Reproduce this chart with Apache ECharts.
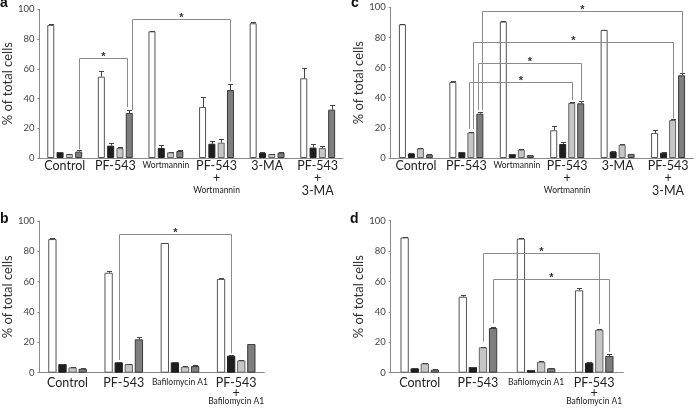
<!DOCTYPE html>
<html><head><meta charset="utf-8">
<script src="https://cdn.jsdelivr.net/npm/echarts@6/dist/echarts.min.js"></script>
<style>html,body{margin:0;padding:0;background:#fff}#c{width:700px;height:408px}</style>
</head><body><div id="c"></div>
<script>
// ---------- data ----------
const catsAC = ['Control', 'PF-543', 'Wortmannin', 'PF-543\n+\nWortmannin', '3-MA', 'PF-543\n+\n3-MA'];
const catsBD = ['Control', 'PF-543', 'Bafilomycin A1', 'PF-543\n+\nBafilomycin A1'];
const yTicks = [0, 20, 40, 60, 80, 100];

// panel a
const aWhite = [89.5, 54.7, 85.2, 34.3, 90.6, 53.6];
const aWhiteErr = [0.3, 3.8, 0.5, 6.5, 1.1, 7.2];
const aBlack = [4.0, 8.3, 6.7, 9.6, 3.4, 7.0];
const aBlackErr = [0.3, 1.6, 1.8, 1.8, 0.3, 2.2];
const aLight = [2.7, 6.7, 3.8, 10.3, 2.7, 6.7];
const aLightErr = [0.3, 0.5, 0.3, 2.2, 0.3, 1.6];
const aDark = [4.3, 30.3, 4.7, 45.7, 3.6, 32.5];
const aDarkErr = [1.0, 2.2, 0.4, 3.8, 0.5, 2.9];
// [cat1, bar1, side1, y1, cat2, bar2, side2, y2, yTop]
const aBrackets = [[0, 3, 0, 5.9, 1, 3, -1, 34.1, 67], [1, 3, 1, 32.3, 3, 3, 0, 51.3, 93.5]];

// panel c
const cWhite = [88.7, 50.4, 90.5, 18.4, 85.0, 16.6];
const cWhiteErr = [0.3, 0.5, 0.3, 2.9, 0.2, 2.0];
const cBlack = [3.0, 4.0, 2.6, 9.3, 4.2, 3.5];
const cBlackErr = [0.3, 0.3, 0.3, 1.1, 0.3, 0.2];
const cLight = [6.4, 17.0, 5.5, 36.5, 8.8, 25.2];
const cLightErr = [0.3, 0.3, 0.3, 0.7, 0.3, 0.5];
const cDark = [2.2, 29.4, 1.8, 36.3, 2.7, 54.9];
const cDarkErr = [0.3, 0.9, 0.3, 1.5, 0.2, 1.3];
const cBrackets = [[1, 3, 1, 31.9, 5, 3, 0, 56.2, 97.5], [1, 2, 1, 19.2, 5, 2, 0, 26.3, 76.8],
                   [1, 3, -1, 31.9, 3, 3, 0, 38.5, 62.8], [1, 2, -1, 19.2, 3, 2, 0, 38.5, 50.4]];

// panel b
const bWhite = [88.1, 65.9, 85.5, 61.8];
const bWhiteErr = [0.4, 0.9, 0.3, 0.3];
const bBlack = [5.7, 6.8, 6.8, 11.2];
const bBlackErr = [0.3, 0.2, 0.3, 0.2];
const bLight = [3.5, 5.7, 4.0, 8.1];
const bLightErr = [0.3, 0.3, 0.4, 0.2];
const bDark = [2.6, 22.0, 4.4, 18.9];
const bDarkErr = [0.3, 1.3, 0.7, 0.3];
const bBrackets = [[1, 1, 0, 8.4, 3, 1, 0, 12.8, 91.2]];

// panel d
const dWhite = [89.0, 50.0, 88.2, 54.2];
const dWhiteErr = [0.4, 1.3, 0.2, 1.5];
const dBlack = [2.9, 3.7, 1.8, 6.6];
const dBlackErr = [0.3, 0.3, 0.2, 0.2];
const dLight = [6.1, 16.7, 7.2, 28.3];
const dLightErr = [0.4, 0.5, 0.3, 0.2];
const dDark = [2.0, 29.4, 2.9, 11.0];
const dDarkErr = [0.2, 0.8, 0.5, 1.1];
const dBrackets = [[1, 2, 0, 20.4, 3, 2, 0, 32, 79], [1, 3, 0, 32.5, 3, 3, 0, 13.8, 61.4]];

// ---------- styles ----------
const FONT = 'Lato, "Open Sans", sans-serif';
const fills = ['#ffffff', '#1e1e1e', '#c6c6c6', '#7e7e7e'];
const borders = ['#555555', '#222222', '#666666', '#3a3a3a'];
const smallNames = ['Wortmannin', 'Bafilomycin A1'];

const grids = [
  {left: 36, top: 9.3, width: 307, height: 148.7},
  {left: 390.7, top: 7.3, width: 302.6, height: 150.7},
  {left: 36, top: 221, width: 228.3, height: 151.7},
  {left: 390.7, top: 220.7, width: 232.6, height: 152}
];

const panels = [
  {cats: catsAC, vals: [aWhite, aBlack, aLight, aDark], errs: [aWhiteErr, aBlackErr, aLightErr, aDarkErr], br: aBrackets, bw: 7, gap: 2.3, lh: [12.5, 12, 13], margin: 1.5},
  {cats: catsAC, vals: [cWhite, cBlack, cLight, cDark], errs: [cWhiteErr, cBlackErr, cLightErr, cDarkErr], br: cBrackets, bw: 7, gap: 2.0, lh: [12.5, 12, 13], margin: 1.5},
  {cats: catsBD, vals: [bWhite, bBlack, bLight, bDark], errs: [bWhiteErr, bBlackErr, bLightErr, bDarkErr], br: bBrackets, bw: 8.3, gap: 1.8, lh: [11, 9, 9], margin: 4.5},
  {cats: catsBD, vals: [dWhite, dBlack, dLight, dDark], errs: [dWhiteErr, dBlackErr, dLightErr, dDarkErr], br: dBrackets, bw: 8.3, gap: 1.8, lh: [11, 9, 9], margin: 4.5}
];

function barOffset(bw, gap, idx) {
  const total = 4 * bw + 3 * gap;
  return -total / 2 + bw / 2 + idx * (bw + gap);
}

function errRender(bw, gap, idx) {
  return function (params, api) {
    const c = api.value(0), v = api.value(1), e = api.value(2);
    const p0 = api.coord([c, v]);
    const p1 = api.coord([c, v + e]);
    const x = Math.round(p0[0] + barOffset(bw, gap, idx)) + 0.5;
    const yt = Math.round(p1[1]) + 0.5;
    return {type: 'group', children: [
      {type: 'line', shape: {x1: x, y1: p0[1], x2: x, y2: yt}, style: {stroke: '#444', lineWidth: 1}},
      {type: 'line', shape: {x1: x - 2.5, y1: yt, x2: x + 2.5, y2: yt}, style: {stroke: '#444', lineWidth: 1}}
    ]};
  };
}

function brRender(bw, gap) {
  return function (params, api) {
    const pos = (cat, bar, side, y) => {
      const p = api.coord([cat, y]);
      return [Math.round(p[0] + barOffset(bw, gap, bar) + side * 2.3) + 0.5, p[1]];
    };
    const a = pos(api.value(0), api.value(1), api.value(2), api.value(3));
    const b = pos(api.value(4), api.value(5), api.value(6), api.value(7));
    const yt = Math.round(api.coord([api.value(0), api.value(8)])[1]) + 0.5;
    return {type: 'group', children: [
      {type: 'polyline', shape: {points: [a, [a[0], yt], [b[0], yt], b]}, style: {stroke: '#8c8c8c', fill: null, lineWidth: 1}},
      {type: 'text', style: {text: '*', x: (a[0] + b[0]) / 2, y: yt - 2, textAlign: 'center', textVerticalAlign: 'middle', font: 'bold 11px "Liberation Sans", sans-serif', fill: '#333'}}
    ]};
  };
}

const xAxes = [], yAxes = [], series = [];
panels.forEach((p, gi) => {
  xAxes.push({
    gridIndex: gi, type: 'category', data: p.cats,
    axisLine: {lineStyle: {color: '#8c8c8c', width: 1}},
    axisTick: {show: false},
    axisLabel: {
      interval: 0, hideOverlap: false, margin: p.margin, color: '#222',
      formatter: function (v) {
        const lines = v.split('\n');
        return lines.map((l, i) => {
          const small = smallNames.indexOf(l) >= 0;
          const key = (small ? 's' : 'b') + Math.min(i, 2);
          return '{' + key + '|' + l + '}';
        }).join('\n');
      },
      rich: {
        b0: {fontSize: 12.5, fontFamily: FONT, lineHeight: p.lh[0], color: '#222'},
        b1: {fontSize: 12.5, fontFamily: FONT, lineHeight: p.lh[1], color: '#222'},
        b2: {fontSize: 12.5, fontFamily: FONT, lineHeight: p.lh[2], color: '#222'},
        s0: {fontSize: 8.5, fontFamily: FONT, lineHeight: p.lh[0], color: '#222'},
        s2: {fontSize: 8.5, fontFamily: FONT, lineHeight: p.lh[2], color: '#222'}
      }
    }
  });
  yAxes.push({
    gridIndex: gi, type: 'value', min: yTicks[0], max: yTicks[yTicks.length - 1], interval: yTicks[1] - yTicks[0],
    name: '% of total cells', nameLocation: 'middle', nameGap: 21, nameRotate: 90,
    nameTextStyle: {fontSize: 13, fontFamily: FONT, color: '#333'},
    axisLine: {show: true, lineStyle: {color: '#8c8c8c', width: 1}},
    axisTick: {show: true, length: 2, lineStyle: {color: '#8c8c8c'}},
    splitLine: {show: false},
    axisLabel: {fontSize: 9.5, fontFamily: FONT, color: '#444', margin: 5}
  });
  p.vals.forEach((vals, si) => {
    series.push({
      type: 'bar', xAxisIndex: gi, yAxisIndex: gi, data: vals,
      barWidth: p.bw, barGap: (p.gap / p.bw * 100) + '%',
      itemStyle: {color: fills[si], borderColor: borders[si], borderWidth: 1},
      silent: true, animation: false
    });
  });
  p.vals.forEach((vals, si) => {
    series.push({
      type: 'custom', xAxisIndex: gi, yAxisIndex: gi,
      data: vals.map((v, i) => [i, v, p.errs[si][i]]),
      encode: {x: 0, y: 1},
      renderItem: errRender(p.bw, p.gap, si), z: 3, clip: false, silent: true, animation: false
    });
  });
  series.push({
    type: 'custom', xAxisIndex: gi, yAxisIndex: gi,
    data: p.br, encode: {x: 0, y: 8},
    renderItem: brRender(p.bw, p.gap), z: 4, clip: false, silent: true, animation: false
  });
});

const chart = echarts.init(document.getElementById('c'), null, {renderer: 'canvas'});
chart.setOption({
  animation: false,
  backgroundColor: '#ffffff',
  grid: grids,
  xAxis: xAxes,
  yAxis: yAxes,
  series: series,
  graphic: [
    {type: 'text', left: 0, top: -4, style: {text: 'a', font: 'bold 14px "Liberation Sans", sans-serif', fill: '#111'}},
    {type: 'text', left: 351, top: -4, style: {text: 'c', font: 'bold 14px "Liberation Sans", sans-serif', fill: '#111'}},
    {type: 'text', left: 0, top: 212, style: {text: 'b', font: 'bold 14px "Liberation Sans", sans-serif', fill: '#111'}},
    {type: 'text', left: 350, top: 212, style: {text: 'd', font: 'bold 14px "Liberation Sans", sans-serif', fill: '#111'}}
  ]
});
</script>
</body></html>
